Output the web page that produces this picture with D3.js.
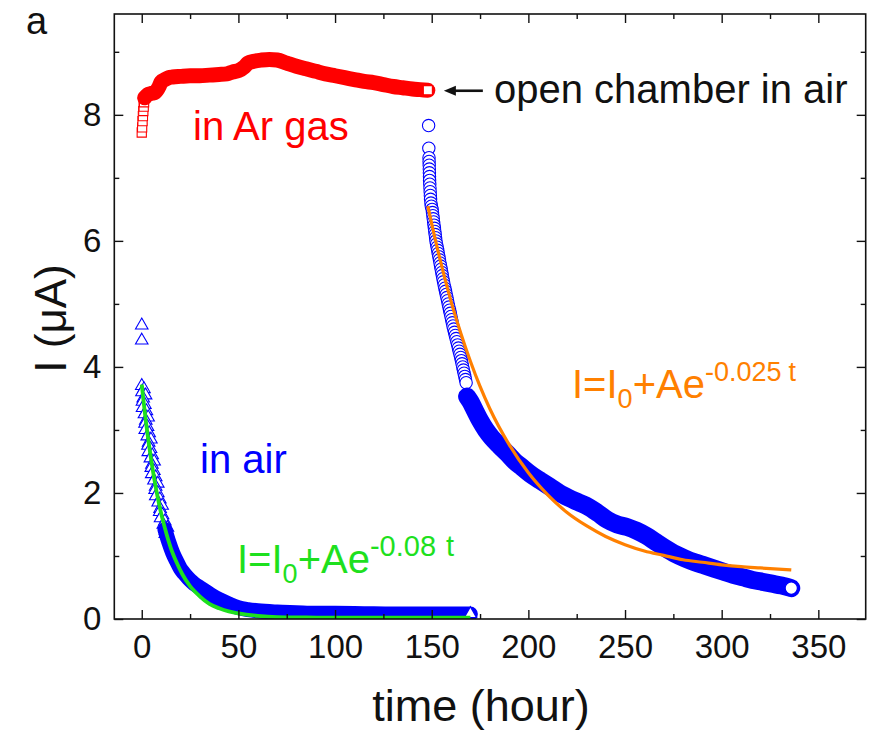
<!DOCTYPE html>
<html>
<head>
<meta charset="utf-8">
<script src="https://cdn.jsdelivr.net/npm/d3@7"></script>
<style>
  body { margin: 0; background: #fff; }
  svg { display: block; }
</style>
</head>
<body>
<svg id="chart" width="869" height="735"></svg>
<script>
// ---- Data: current I (uA) versus time (hour) ----

// Sample kept in Ar gas (red squares): first readings, then the continuous trace
const arStartTime    = [0, 0.2, 0.4, 0.6, 0.8, 1.0, 1.2];
const arStartCurrent = [7.72, 7.8, 7.9, 7.98, 8.06, 8.13, 8.2];
const arTime    = [1.5, 3, 5, 7, 9, 10, 12, 14, 16, 20, 25, 30, 35, 40, 44, 47, 50, 53, 55, 58, 62, 66, 70, 75, 80, 85, 90, 95, 100, 105, 110, 115, 120, 125, 130, 135, 140, 144, 148];
const arCurrent = [8.27, 8.32, 8.34, 8.36, 8.45, 8.52, 8.56, 8.59, 8.6, 8.61, 8.62, 8.62, 8.63, 8.64, 8.65, 8.68, 8.7, 8.76, 8.82, 8.85, 8.87, 8.88, 8.87, 8.82, 8.77, 8.73, 8.69, 8.65, 8.62, 8.59, 8.56, 8.53, 8.51, 8.48, 8.45, 8.43, 8.41, 8.4, 8.39];

// Sample in air from t = 0 (blue triangles): first readings, then the continuous trace
const air1StartTime    = [0, 0, 0, 1.14, 0.11, 1.99, 0.77, 0.35, 1.63, 0.42, 2.41, 1.4, 3.29, 2.09, 1.69, 3.0, 1.81, 3.82, 2.83, 4.75, 3.57, 3.2, 4.53, 3.37, 5.41, 4.45, 6.4, 5.26, 4.92, 6.28, 5.15, 7.23, 6.31, 8.3, 7.2, 6.9, 8.32, 7.24, 9.36, 8.5, 10.55, 9.5, 9.27, 10.75, 9.74, 11.94, 11.15, 13.28, 12.33, 12.19];
const air1StartCurrent = [4.66, 4.42, 3.7, 3.65, 3.6, 3.55, 3.5, 3.45, 3.4, 3.35, 3.3, 3.25, 3.2, 3.15, 3.1, 3.05, 3.0, 2.95, 2.9, 2.85, 2.8, 2.75, 2.7, 2.65, 2.6, 2.55, 2.5, 2.45, 2.4, 2.35, 2.3, 2.25, 2.2, 2.15, 2.1, 2.05, 2.0, 1.95, 1.9, 1.85, 1.8, 1.75, 1.7, 1.65, 1.6, 1.55, 1.5, 1.45, 1.4, 1.35];
const air1Time    = [12, 14, 16, 18, 20, 22, 24, 26, 28, 30, 33, 36, 40, 45, 50, 55, 60, 70, 80, 90, 100, 115, 130, 145, 160, 170];
const air1Current = [1.42, 1.22, 1.05, 0.92, 0.8, 0.72, 0.65, 0.59, 0.54, 0.5, 0.44, 0.38, 0.31, 0.24, 0.18, 0.15, 0.13, 0.11, 0.1, 0.09, 0.09, 0.085, 0.08, 0.08, 0.08, 0.08];

// Chamber opened in air at t = 148 h (blue circles): fast drop, then the continuous trace
const air2StartTime    = [148.2, 148.4, 148.5, 148.6, 148.65, 148.7, 148.75, 148.8, 148.85, 148.9, 149.0, 149.1, 149.2, 149.3, 149.4, 149.6, 149.8,
                          150.2, 150.4, 150.6, 150.8, 151.0, 151.2, 151.4, 151.6, 151.8, 152.0, 152.2, 152.5, 152.8, 153.1, 153.4, 153.7, 154.0, 154.3, 154.6, 154.9,
                          155.2, 155.5, 155.8, 156.1, 156.45, 156.8, 157.15, 157.5, 157.85, 158.2, 158.55, 158.9, 159.25, 159.6, 159.95, 160.3, 160.65, 161.0,
                          161.4, 161.8, 162.2, 162.6, 163.0, 163.4, 163.8, 164.2, 164.6, 165.0, 165.35, 165.7, 166.05, 166.4, 166.75, 167.1, 167.45, 167.8];
const air2StartCurrent = [8.39, 7.83, 7.47, 7.32, 7.26, 7.2, 7.14, 7.08, 7.02, 6.96, 6.9, 6.84, 6.78, 6.72, 6.66, 6.6, 6.55,
                          6.5, 6.45, 6.4, 6.35, 6.3, 6.25, 6.2, 6.15, 6.1, 6.05, 6.0, 5.95, 5.9, 5.85, 5.8, 5.75, 5.7, 5.65, 5.6, 5.55,
                          5.5, 5.45, 5.4, 5.35, 5.3, 5.25, 5.2, 5.15, 5.1, 5.05, 5.0, 4.95, 4.9, 4.85, 4.8, 4.75, 4.7, 4.65,
                          4.6, 4.55, 4.5, 4.45, 4.4, 4.35, 4.3, 4.25, 4.2, 4.15, 4.1, 4.05, 4.0, 3.95, 3.9, 3.85, 3.8, 3.75];
const air2Time    = [168.3, 170, 172, 175, 178, 181, 185, 189, 193, 197, 201, 206, 211, 216, 221, 226, 231, 236, 241, 246, 251, 256, 261, 266, 271, 276, 281, 286, 291, 296, 301, 306, 311, 316, 321, 326, 331, 336];
const air2Current = [3.53, 3.45, 3.33, 3.15, 3.0, 2.88, 2.75, 2.63, 2.5, 2.4, 2.3, 2.2, 2.1, 2.0, 1.92, 1.85, 1.78, 1.68, 1.57, 1.5, 1.46, 1.4, 1.32, 1.22, 1.12, 1.03, 0.96, 0.9, 0.85, 0.8, 0.75, 0.7, 0.66, 0.62, 0.59, 0.56, 0.53, 0.49];

// Exponential fits I = I0 + A e^(-k t)
const fit1Time    = [0, 1, 2, 3, 4, 5, 6, 7, 8, 10, 12, 15, 18, 21, 25, 30, 35, 40, 45, 50, 60, 70, 85, 100, 130, 170];
const fit1Current = [3.72, 3.44, 3.17, 2.93, 2.71, 2.5, 2.31, 2.13, 1.97, 1.68, 1.44, 1.13, 0.9, 0.71, 0.52, 0.36, 0.24, 0.17, 0.12, 0.09, 0.05, 0.03, 0.024, 0.02, 0.02, 0.02];
const fit2Time    = [148, 152, 156, 160, 165, 170, 175, 180, 190, 200, 210, 220, 230, 240, 250, 260, 270, 280, 290, 300, 310, 320, 336];
const fit2Current = [6.55, 6.0, 5.5, 5.04, 4.54, 4.09, 3.69, 3.34, 2.77, 2.32, 1.97, 1.69, 1.48, 1.31, 1.18, 1.08, 1.01, 0.94, 0.9, 0.86, 0.83, 0.81, 0.78];

// Axis ticks
const xMajorTicks = [0, 50, 100, 150, 200, 250, 300, 350];
const xMinorTicks = [25, 75, 125, 175, 225, 275, 325];
const yMajorTicks = [0, 2, 4, 6, 8];
const yMinorTicks = [1, 3, 5, 7, 9];

// ---- Layout ----
const FONT = "'Liberation Sans', Arial, Helvetica, sans-serif";
const RED = "#ff0000", BLUE = "#0000ff", GREEN = "#1ee01e", ORANGE = "#ff8000";
const plotLeft = 114.3, plotRight = 865.7, plotTop = 14, plotBottom = 619;

const svg = d3.select("#chart");
const x = d3.scaleLinear().domain([-14.2, 374.5]).range([plotLeft, plotRight]);
const y = d3.scaleLinear().domain([0, 9.6]).range([plotBottom, plotTop]);

const zip = (ts, vs) => ts.map((t, i) => [t, vs[i]]);

svg.append("defs").append("clipPath").attr("id", "plot-clip")
  .append("rect").attr("x", plotLeft).attr("y", plotTop)
  .attr("width", plotRight - plotLeft).attr("height", plotBottom - plotTop);

const plot = svg.append("g").attr("clip-path", "url(#plot-clip)");

// Draws one measured series: isolated readings as white-filled symbols,
// the densely sampled trace as a solid band capped by its last symbol.
function drawSeries(startT, startV, t, v, symbolType, symbolSize, color, band) {
  const g = plot.append("g");
  const sym = d3.symbol().type(symbolType).size(symbolSize);
  g.selectAll("path.start").data(zip(startT, startV)).join("path")
    .attr("class", "start")
    .attr("d", sym)
    .attr("transform", d => `translate(${x(d[0])},${y(d[1])})`)
    .attr("fill", "#fff").attr("stroke", color).attr("stroke-width", 1.1);
  const pts = zip(t, v);
  g.append("path").datum(pts)
    .attr("d", d3.line().x(d => x(d[0])).y(d => y(d[1])).curve(d3.curveMonotoneX))
    .attr("fill", "none").attr("stroke", color).attr("stroke-width", band)
    .attr("stroke-linecap", "round").attr("stroke-linejoin", "round");
  const last = pts[pts.length - 1];
  g.append("path").attr("d", sym)
    .attr("transform", `translate(${x(last[0])},${y(last[1])})`)
    .attr("fill", "#fff").attr("stroke", color).attr("stroke-width", 1.3);
}

drawSeries(air1StartTime, air1StartCurrent, air1Time, air1Current, d3.symbolTriangle, 68, BLUE, 15);
drawSeries(air2StartTime, air2StartCurrent, air2Time, air2Current, d3.symbolCircle, 120, BLUE, 18);
drawSeries(arStartTime, arStartCurrent, arTime, arCurrent, d3.symbolSquare, 85, RED, 15);

// Fit curves
const fitLine = d3.line().x(d => x(d[0])).y(d => y(d[1])).curve(d3.curveMonotoneX);
plot.append("path").datum(zip(fit1Time, fit1Current)).attr("d", fitLine)
  .attr("fill", "none").attr("stroke", GREEN).attr("stroke-width", 3.8);
plot.append("path").datum(zip(fit2Time, fit2Current)).attr("d", fitLine)
  .attr("fill", "none").attr("stroke", ORANGE).attr("stroke-width", 3.2);

// ---- Axes: frame with inward ticks on all four sides ----
function tickAxis(axisFn, scale, values, size, translate, labels, padding) {
  const a = axisFn(scale).tickValues(values).tickSizeInner(-size).tickSizeOuter(0)
    .tickPadding(padding || 0);
  if (!labels) a.tickFormat("");
  const g = svg.append("g").attr("transform", translate).call(a);
  g.select(".domain").remove();
  g.selectAll(".tick line").attr("stroke", "#111").attr("stroke-width", 1.4);
  g.selectAll("text").attr("font-family", FONT).attr("font-size", 33).attr("fill", "#111");
  return g;
}

tickAxis(d3.axisBottom, x, xMajorTicks, 9, `translate(0,${plotBottom})`, true, 16);
tickAxis(d3.axisBottom, x, xMinorTicks, 5, `translate(0,${plotBottom})`, false);
tickAxis(d3.axisTop, x, xMajorTicks, 9, `translate(0,${plotTop})`, false);
tickAxis(d3.axisTop, x, xMinorTicks, 5, `translate(0,${plotTop})`, false);
tickAxis(d3.axisLeft, y, yMajorTicks, 9, `translate(${plotLeft},0)`, true, 13);
tickAxis(d3.axisLeft, y, yMinorTicks, 5, `translate(${plotLeft},0)`, false);
tickAxis(d3.axisRight, y, yMajorTicks, 9, `translate(${plotRight},0)`, false);
tickAxis(d3.axisRight, y, yMinorTicks, 5, `translate(${plotRight},0)`, false);

svg.append("rect").attr("x", plotLeft).attr("y", plotTop)
  .attr("width", plotRight - plotLeft).attr("height", plotBottom - plotTop)
  .attr("fill", "none").attr("stroke", "#111").attr("stroke-width", 1.6);

// Axis titles and panel letter
svg.append("text").attr("x", (plotLeft + plotRight) / 2 - 9).attr("y", 721)
  .attr("text-anchor", "middle").attr("font-family", FONT).attr("font-size", 45)
  .attr("fill", "#111").text("time (hour)");
svg.append("text").attr("transform", `translate(66,${(plotTop + plotBottom) / 2 + 2}) rotate(-90)`)
  .attr("text-anchor", "middle").attr("font-family", FONT).attr("font-size", 44)
  .attr("fill", "#111").text("I (μA)");
svg.append("text").attr("x", 26).attr("y", 34)
  .attr("font-family", FONT).attr("font-size", 38).attr("fill", "#111").text("a");

// ---- Annotations ----
function label(xp, yp, color, str) {
  return svg.append("text").attr("x", xp).attr("y", yp)
    .attr("font-family", FONT).attr("font-size", 40).attr("fill", color).text(str);
}
label(193, 140, RED, "in Ar gas");
label(200, 473, BLUE, "in air");

function fitLabel(xp, yp, color, rate, supSize, gap) {
  const t = svg.append("text").attr("x", xp).attr("y", yp)
    .attr("font-family", FONT).attr("font-size", 40).attr("fill", color);
  t.append("tspan").text("I=I");
  t.append("tspan").attr("font-size", 27).attr("dy", 10).text("0");
  t.append("tspan").attr("dy", -10).text("+Ae");
  t.append("tspan").attr("font-size", supSize).attr("dy", -17).text(rate);
  t.append("tspan").attr("font-size", supSize).attr("dx", gap).text("t");
}
fitLabel(237, 573, GREEN, "-0.08", 29, 10);
fitLabel(572, 398, ORANGE, "-0.025", 27, 7);

// Arrow pointing at the moment the chamber was opened
const ax = x(arTime[arTime.length - 1]) + 16, ay = y(arCurrent[arCurrent.length - 1]) + 0.5;
svg.append("line").attr("x1", ax + 8).attr("y1", ay).attr("x2", ax + 39).attr("y2", ay)
  .attr("stroke", "#111").attr("stroke-width", 2.6);
svg.append("path")
  .attr("d", `M${ax},${ay} L${ax + 12},${ay - 5} L${ax + 12},${ay + 5} Z`)
  .attr("fill", "#111");
label(494, 103, "#111", "open chamber in air");
</script>
</body>
</html>
